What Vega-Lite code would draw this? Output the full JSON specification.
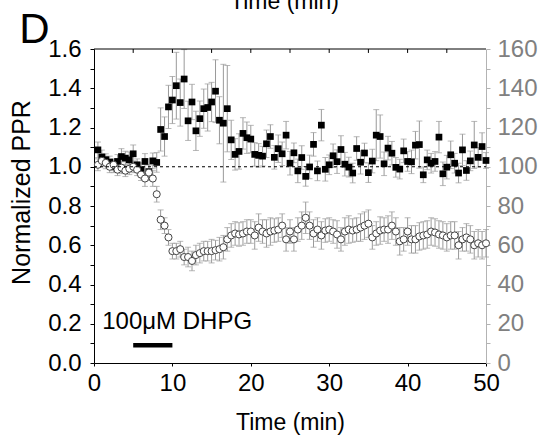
{
"$schema": "https://vega.github.io/schema/vega-lite/v6.json",
"width": 392, "height": 314, "autosize": "none",
"padding": {"left": 94, "top": 49, "right": 62, "bottom": 79},
"config": {"view": {"stroke": null}, "font": "Liberation Sans", "axis": {"titleFontWeight": "normal", "titleFont": "Liberation Sans", "labelFont": "Liberation Sans"}},
"data": {"values": [
{"t":0.5,"ppr":1.086,"pe":0.04,"amp":101,"ae":3},
{"t":1,"ppr":1.05,"pe":0.035,"amp":103,"ae":3},
{"t":1.5,"ppr":1.036,"pe":0.03,"amp":102,"ae":3},
{"t":2,"ppr":1.024,"pe":0.03,"amp":100,"ae":3},
{"t":2.5,"ppr":1.0,"pe":0.03,"amp":101,"ae":3},
{"t":3,"ppr":1.027,"pe":0.035,"amp":98.5,"ae":3},
{"t":3.5,"ppr":1.052,"pe":0.04,"amp":99.5,"ae":3},
{"t":4,"ppr":1.044,"pe":0.035,"amp":98,"ae":3},
{"t":4.5,"ppr":1.035,"pe":0.04,"amp":99,"ae":3},
{"t":5,"ppr":1.066,"pe":0.045,"amp":100,"ae":3},
{"t":5.5,"ppr":1.01,"pe":0.03,"amp":98.5,"ae":3},
{"t":6,"ppr":0.985,"pe":0.035,"amp":96,"ae":3},
{"t":6.5,"ppr":1.027,"pe":0.04,"amp":94,"ae":4},
{"t":7,"ppr":0.975,"pe":0.035,"amp":97,"ae":4},
{"t":7.5,"ppr":1.03,"pe":0.04,"amp":94,"ae":4},
{"t":8,"ppr":1.022,"pe":0.05,"amp":86,"ae":4},
{"t":8.5,"ppr":1.19,"pe":0.11,"amp":73,"ae":5},
{"t":9,"ppr":1.154,"pe":0.1,"amp":70,"ae":4},
{"t":9.5,"ppr":1.305,"pe":0.11,"amp":64,"ae":4},
{"t":10,"ppr":1.34,"pe":0.12,"amp":57,"ae":4},
{"t":10.5,"ppr":1.413,"pe":0.17,"amp":57,"ae":4},
{"t":11,"ppr":1.327,"pe":0.12,"amp":58,"ae":4},
{"t":11.5,"ppr":1.447,"pe":0.15,"amp":54,"ae":4},
{"t":12,"ppr":1.234,"pe":0.1,"amp":54,"ae":5},
{"t":12.5,"ppr":1.33,"pe":0.09,"amp":52,"ae":5},
{"t":13,"ppr":1.183,"pe":0.1,"amp":55,"ae":5},
{"t":13.5,"ppr":1.245,"pe":0.09,"amp":56,"ae":5},
{"t":14,"ppr":1.296,"pe":0.1,"amp":57,"ae":5},
{"t":14.5,"ppr":1.302,"pe":0.12,"amp":57,"ae":5},
{"t":15,"ppr":1.33,"pe":0.1,"amp":57,"ae":6},
{"t":15.5,"ppr":1.385,"pe":0.16,"amp":57.5,"ae":5},
{"t":16,"ppr":1.237,"pe":0.12,"amp":58,"ae":6},
{"t":16.5,"ppr":1.222,"pe":0.3,"amp":59,"ae":6},
{"t":17,"ppr":1.296,"pe":0.22,"amp":63,"ae":6},
{"t":17.5,"ppr":1.137,"pe":0.1,"amp":65,"ae":6},
{"t":18,"ppr":1.063,"pe":0.08,"amp":66,"ae":6},
{"t":18.5,"ppr":1.078,"pe":0.09,"amp":65.5,"ae":6},
{"t":19,"ppr":1.17,"pe":0.08,"amp":66,"ae":6},
{"t":19.5,"ppr":1.148,"pe":0.08,"amp":67,"ae":6},
{"t":20,"ppr":1.141,"pe":0.07,"amp":67,"ae":6},
{"t":20.5,"ppr":1.063,"pe":0.06,"amp":65,"ae":7},
{"t":21,"ppr":1.058,"pe":0.06,"amp":69,"ae":7},
{"t":21.5,"ppr":1.054,"pe":0.05,"amp":67,"ae":6},
{"t":22,"ppr":1.117,"pe":0.07,"amp":66,"ae":7},
{"t":22.5,"ppr":1.154,"pe":0.06,"amp":67,"ae":7},
{"t":23,"ppr":1.048,"pe":0.06,"amp":67.5,"ae":6},
{"t":23.5,"ppr":1.092,"pe":0.07,"amp":68,"ae":6},
{"t":24,"ppr":1.066,"pe":0.06,"amp":70,"ae":6},
{"t":24.5,"ppr":1.161,"pe":0.07,"amp":63,"ae":6},
{"t":25,"ppr":1.018,"pe":0.06,"amp":67,"ae":6},
{"t":25.5,"ppr":1.071,"pe":0.05,"amp":63,"ae":6},
{"t":26,"ppr":0.979,"pe":0.06,"amp":68,"ae":6},
{"t":26.5,"ppr":1.047,"pe":0.06,"amp":70,"ae":7},
{"t":27,"ppr":0.951,"pe":0.05,"amp":74,"ae":8},
{"t":27.5,"ppr":0.999,"pe":0.06,"amp":70,"ae":7},
{"t":28,"ppr":1.114,"pe":0.06,"amp":66,"ae":7},
{"t":28.5,"ppr":0.979,"pe":0.05,"amp":68,"ae":6},
{"t":29,"ppr":1.212,"pe":0.08,"amp":65,"ae":7},
{"t":29.5,"ppr":0.987,"pe":0.06,"amp":67.5,"ae":6},
{"t":30,"ppr":1.01,"pe":0.05,"amp":68,"ae":6},
{"t":30.5,"ppr":1.056,"pe":0.06,"amp":67,"ae":6},
{"t":31,"ppr":1.026,"pe":0.06,"amp":65.5,"ae":7},
{"t":31.5,"ppr":1.088,"pe":0.07,"amp":63,"ae":6},
{"t":32,"ppr":1.013,"pe":0.06,"amp":67,"ae":7},
{"t":32.5,"ppr":0.998,"pe":0.05,"amp":68,"ae":7},
{"t":33,"ppr":0.968,"pe":0.05,"amp":67.5,"ae":6},
{"t":33.5,"ppr":1.093,"pe":0.06,"amp":68,"ae":6},
{"t":34,"ppr":1.023,"pe":0.06,"amp":69,"ae":7},
{"t":34.5,"ppr":1.07,"pe":0.05,"amp":70,"ae":7},
{"t":35,"ppr":0.97,"pe":0.05,"amp":71,"ae":7},
{"t":35.5,"ppr":1.029,"pe":0.06,"amp":64,"ae":6},
{"t":36,"ppr":1.161,"pe":0.13,"amp":66,"ae":6},
{"t":36.5,"ppr":1.154,"pe":0.11,"amp":67.5,"ae":7},
{"t":37,"ppr":1.015,"pe":0.06,"amp":68,"ae":6},
{"t":37.5,"ppr":1.095,"pe":0.06,"amp":68,"ae":7},
{"t":38,"ppr":1.069,"pe":0.06,"amp":70,"ae":7},
{"t":38.5,"ppr":0.997,"pe":0.05,"amp":67,"ae":7},
{"t":39,"ppr":0.988,"pe":0.05,"amp":62,"ae":7},
{"t":39.5,"ppr":1.081,"pe":0.06,"amp":63,"ae":6},
{"t":40,"ppr":1.027,"pe":0.05,"amp":67,"ae":7},
{"t":40.5,"ppr":1.025,"pe":0.06,"amp":63,"ae":7},
{"t":41,"ppr":1.11,"pe":0.07,"amp":63,"ae":7},
{"t":41.5,"ppr":1.113,"pe":0.12,"amp":64.5,"ae":7},
{"t":42,"ppr":0.959,"pe":0.04,"amp":65,"ae":7},
{"t":42.5,"ppr":1.035,"pe":0.05,"amp":65.5,"ae":7},
{"t":43,"ppr":1.018,"pe":0.05,"amp":67,"ae":7},
{"t":43.5,"ppr":1.027,"pe":0.05,"amp":66.5,"ae":7},
{"t":44,"ppr":1.151,"pe":0.08,"amp":65.5,"ae":7},
{"t":44.5,"ppr":0.964,"pe":0.06,"amp":65,"ae":7},
{"t":45,"ppr":0.998,"pe":0.06,"amp":64,"ae":7},
{"t":45.5,"ppr":1.061,"pe":0.07,"amp":65,"ae":7},
{"t":46,"ppr":1.018,"pe":0.05,"amp":65,"ae":7},
{"t":46.5,"ppr":0.968,"pe":0.05,"amp":60,"ae":7},
{"t":47,"ppr":1.086,"pe":0.08,"amp":63,"ae":6},
{"t":47.5,"ppr":0.981,"pe":0.05,"amp":64,"ae":7},
{"t":48,"ppr":1.03,"pe":0.05,"amp":63,"ae":7},
{"t":48.5,"ppr":1.111,"pe":0.12,"amp":60,"ae":7},
{"t":49,"ppr":1.048,"pe":0.05,"amp":61,"ae":7},
{"t":49.5,"ppr":1.103,"pe":0.07,"amp":60,"ae":7},
{"t":50,"ppr":1.032,"pe":0.04,"amp":61,"ae":7}
]},
"resolve": {"scale": {"y": "independent"}},
"layer": [
 {"mark": {"type": "errorbar", "ticks": {"size": 6, "color": "#9a9a9a"}, "rule": {"color": "#9a9a9a", "strokeWidth": 1}},
  "encoding": {
   "x": {"field": "t", "type": "quantitative", "scale": {"domain": [0, 50], "nice": false}},
   "y": {"field": "ppr", "type": "quantitative", "scale": {"domain": [0, 1.6], "nice": false}, "axis": null},
   "yError": {"field": "pe"}}},
 {"mark": {"type": "errorbar", "ticks": {"size": 6, "color": "#9a9a9a"}, "rule": {"color": "#9a9a9a", "strokeWidth": 1}},
  "encoding": {
   "x": {"field": "t", "type": "quantitative"},
   "y": {"field": "amp", "type": "quantitative", "scale": {"domain": [0, 160], "nice": false}, "axis": null},
   "yError": {"field": "ae"}}},
 {"mark": {"type": "point", "shape": "square", "filled": true, "color": "black", "size": 45, "opacity": 1},
  "encoding": {
   "x": {"field": "t", "type": "quantitative",
    "axis": {"orient": "bottom", "values": [0,5,10,15,20,25,30,35,40,45,50], "labelExpr": "datum.value % 10 == 0 ? datum.label : ''",
     "tickSize": 3, "labelFlush": false, "labelOverlap": false, "labelFontSize": 24, "labelPadding": 5, "labelColor": "black",
     "domainColor": "black", "tickColor": "black", "grid": false,
     "title": "Time (min)", "titleFontSize": 23, "titleFontWeight": "normal", "titleColor": "black", "titlePadding": 16}},
   "y": {"field": "ppr", "type": "quantitative", "scale": {"domain": [0, 1.6], "nice": false},
    "axis": {"orient": "left", "values": [0,0.1,0.2,0.3,0.4,0.5,0.6,0.7,0.8,0.9,1.0,1.1,1.2,1.3,1.4,1.5,1.6],
     "labelExpr": "round(datum.value*10) % 2 == 0 ? format(datum.value, '.1f') : ''",
     "tickSize": 4, "labelOverlap": false, "labelFontSize": 24, "labelPadding": 9, "labelColor": "black",
     "domainColor": "black", "tickColor": "black", "grid": false,
     "title": "Normalized PPR", "titleFontSize": 25, "titleFontWeight": "normal", "titleColor": "black", "titlePadding": 13, "titleY": 143}}}},
 {"mark": {"type": "point", "shape": "circle", "filled": true, "fill": "white", "stroke": "#444444", "strokeWidth": 1, "size": 50, "opacity": 1},
  "encoding": {
   "x": {"field": "t", "type": "quantitative"},
   "y": {"field": "amp", "type": "quantitative", "scale": {"domain": [0, 160], "nice": false},
    "axis": {"orient": "right", "values": [0,10,20,30,40,50,60,70,80,90,100,110,120,130,140,150,160],
     "labelExpr": "datum.value % 20 == 0 ? datum.label : ''",
     "tickSize": 4, "labelOverlap": false, "labelFontSize": 24, "labelPadding": 7, "labelColor": "#808080",
     "domainColor": "#b3b3b3", "tickColor": "#b3b3b3", "grid": false, "title": null}}}},
 {"data": {"values": [{"v": 1.0}]},
  "mark": {"type": "rule", "strokeDash": [3, 3], "color": "black", "strokeWidth": 1},
  "encoding": {"x": {"datum": 0, "type": "quantitative"}, "x2": {"datum": 50},
   "y": {"field": "v", "type": "quantitative", "scale": {"domain": [0, 1.6], "nice": false}, "axis": null}}},
 {"data": {"values": [{"v": 1.6}]},
  "mark": {"type": "rule", "color": "black", "strokeWidth": 1},
  "encoding": {"x": {"datum": 0, "type": "quantitative"}, "x2": {"datum": 50},
   "y": {"field": "v", "type": "quantitative", "scale": {"domain": [0, 1.6], "nice": false}, "axis": null}}},
 {"data": {"values": [{"tt": 5}, {"tt": 10}, {"tt": 15}, {"tt": 20}, {"tt": 25}, {"tt": 30}, {"tt": 35}, {"tt": 40}, {"tt": 45}]},
  "mark": {"type": "rule", "color": "black", "strokeWidth": 1},
  "encoding": {"x": {"field": "tt", "type": "quantitative"},
   "y": {"datum": 1.6, "type": "quantitative", "scale": {"domain": [0, 1.6], "nice": false}, "axis": null},
   "y2": {"datum": 1.58}}},
 {"data": {"values": [{"a": 5, "b": 10, "v": 0.09, "ty": 0.21, "label": "100μM DHPG"}]},
  "layer": [
   {"mark": {"type": "rule", "strokeWidth": 4.5, "color": "black"},
    "encoding": {"x": {"field": "a", "type": "quantitative"}, "x2": {"field": "b"},
     "y": {"field": "v", "type": "quantitative", "scale": {"domain": [0, 1.6], "nice": false}, "axis": null}}},
   {"mark": {"type": "text", "align": "left", "baseline": "middle", "fontSize": 24, "color": "black", "dx": -31},
    "encoding": {"x": {"field": "a", "type": "quantitative"},
     "y": {"field": "ty", "type": "quantitative", "scale": {"domain": [0, 1.6], "nice": false}, "axis": null},
     "text": {"field": "label"}}}
  ]},
 {"data": {"values": [{}]},
  "mark": {"type": "text", "text": "D", "align": "center", "baseline": "alphabetic", "fontSize": 42, "color": "black"},
  "encoding": {"x": {"datum": -7.6, "type": "quantitative"},
   "y": {"datum": 1.632, "type": "quantitative", "scale": {"domain": [0, 1.6], "nice": false}, "axis": null}}},
 {"data": {"values": [{}]},
  "mark": {"type": "text", "text": "Time (min)", "align": "center", "baseline": "alphabetic", "fontSize": 23, "color": "black"},
  "encoding": {"x": {"datum": 24.3, "type": "quantitative"},
   "y": {"datum": 1.806, "type": "quantitative", "scale": {"domain": [0, 1.6], "nice": false}, "axis": null}}}
]
}
